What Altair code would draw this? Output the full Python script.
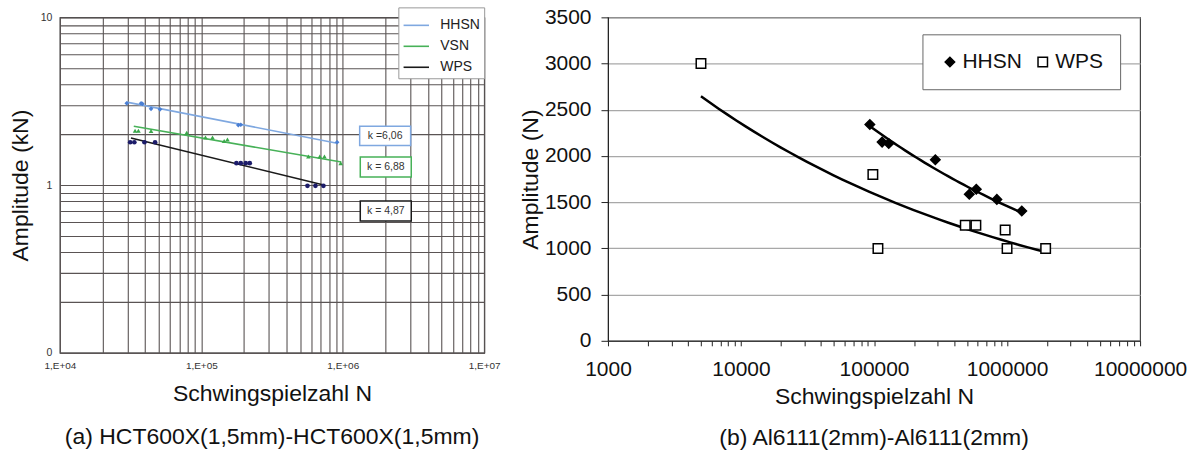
import altair as alt
import numpy as np
import pandas as pd

FONT = "Liberation Sans"

# ---------------- (a) HCT600X(1,5mm)-HCT600X(1,5mm) ----------------
series_a = ["HHSN", "VSN", "WPS"]

hhsn_a_n = [29700, 37500, 38300, 44100, 51000, 182600, 190000, 912000]
hhsn_a_amp = [3.07, 3.07, 3.05, 2.85, 2.83, 2.28, 2.29, 1.80]

vsn_a_n = [34000, 35900, 44100, 78800, 107000, 120000, 145000, 153000, 572000, 688000, 742000, 967000]
vsn_a_amp = [2.11, 2.11, 2.10, 2.05, 1.92, 1.92, 1.83, 1.87, 1.48, 1.48, 1.48, 1.35]

wps_a_n = [31400, 33600, 39600, 47100, 177000, 190000, 206000, 220000, 563000, 641000, 730000]
wps_a_amp = [1.80, 1.80, 1.80, 1.80, 1.35, 1.35, 1.35, 1.35, 0.99, 0.99, 0.99]

# Wöhler lines: slope exponent k, range of N and a reference point on each line
k_values = [6.06, 6.88, 4.87]
k_labels = ["k =6,06", "k = 6,88", "k = 4,87"]
line_n_start = [29700, 33300, 31800]
line_n_end = [912000, 977000, 745000]
line_ref_n = [164000, 180000, 154000]
line_ref_amp = [2.355, 1.754, 1.38]

# k label boxes (N and amplitude extents)
box_n_lo = [1.317e6, 1.33e6, 1.33e6]
box_n_hi = [3.02e6, 3.05e6, 3.05e6]
box_amp_hi = [2.245, 1.468, 0.803]
box_amp_lo = [1.723, 1.116, 0.610]

point_colors_a = ["#4a7fd4", "#3aa84a", "#1c1c6a"]
line_colors_a = ["#7fa8e0", "#47b158", "#1a1a1a"]
box_colors_a = ["#7fa8e0", "#47b158", "#1a1a1a"]
shapes_a = ["diamond", "triangle-up", "circle"]

# ---------------- (b) Al6111(2mm)-Al6111(2mm) ----------------
series_b = ["HHSN", "WPS"]
hhsn_b_n = [93000, 115000, 129000, 289000, 520000, 587000, 838000, 1290000]
hhsn_b_amp = [2340, 2150, 2135, 1960, 1585, 1640, 1530, 1405]
wps_b_n = [5000, 98000, 107000, 485000, 583000, 968000, 1000000, 1950000]
wps_b_amp = [3000, 1800, 1000, 1250, 1250, 1200, 1000, 1000]

# power trend lines  A = A0 * (N / N0) ** b
trend_b_n0 = [93000, 5000]
trend_b_a0 = [2322, 2646]
trend_b_exp = [-0.196, -0.170]
trend_b_n1 = [1300000, 1950000]


def log_grid(lo_exp, hi_exp):
    vals = []
    for e in range(lo_exp, hi_exp):
        for m in range(1, 10):
            vals.append(m * 10.0 ** e)
    vals.append(10.0 ** hi_exp)
    return vals


# ---- tables for (a)
pts_a = [
    pd.DataFrame({"N": hhsn_a_n, "A": hhsn_a_amp}),
    pd.DataFrame({"N": vsn_a_n, "A": vsn_a_amp}),
    pd.DataFrame({"N": wps_a_n, "A": wps_a_amp}),
]

rows = []
for s, k, n0, n1, nr, ar in zip(series_a, k_values, line_n_start, line_n_end, line_ref_n, line_ref_amp):
    for n in (n0, n1):
        rows.append({"N": n, "A": ar * (n / nr) ** (-1.0 / k), "series": s})
lines_a = pd.DataFrame(rows)

boxes_a = pd.DataFrame({
    "n_lo": box_n_lo, "n_hi": box_n_hi,
    "a_lo": box_amp_lo, "a_hi": box_amp_hi,
    "label": k_labels, "col": box_colors_a,
})
boxes_a["n_mid"] = np.sqrt(boxes_a["n_lo"] * boxes_a["n_hi"])
boxes_a["a_mid"] = np.sqrt(boxes_a["a_lo"] * boxes_a["a_hi"])

GRID_A = "#5a5454"
x_a = alt.X(
    "N:Q",
    scale=alt.Scale(type="log", domain=[1e4, 1e7], nice=False),
    axis=alt.Axis(
        title="Schwingspielzahl N", values=log_grid(4, 7),
        labelExpr="abs(log(datum.value)/LN10 - round(log(datum.value)/LN10)) < 0.001 ? '1,E+0' + round(log(datum.value)/LN10) : ''",
        labelFlush=False, labelOverlap=False, labelFontSize=10, labelColor="#333",
        labelPadding=8, tickSize=0, grid=True, gridColor=GRID_A, gridWidth=1.1, gridOpacity=1,
        domainColor=GRID_A, titleFontSize=23, titleFontWeight="normal", titlePadding=12, titleColor="#111",
    ),
)
y_a = alt.Y(
    "A:Q",
    scale=alt.Scale(type="log", domain=[0.1, 10], nice=False),
    axis=alt.Axis(
        title="Amplitude (kN)", values=log_grid(-1, 1),
        labelExpr="abs(datum.value - 10) < 0.001 ? '10' : (abs(datum.value - 1) < 0.001 ? '1' : (abs(datum.value - 0.1) < 0.001 ? '0' : ''))",
        labelOverlap=False, labelFontSize=10.5, labelColor="#333", labelPadding=8, tickSize=0,
        grid=True, gridColor=GRID_A, gridWidth=1.1, gridOpacity=1, domainColor=GRID_A,
        titleFontSize=23, titleFontWeight="normal", titlePadding=8, titleColor="#111",
    ),
)

lines_layer_a = alt.Chart(lines_a).mark_line(strokeWidth=1.6).encode(
    x=x_a, y=y_a,
    color=alt.Color(
        "series:N",
        scale=alt.Scale(domain=series_a, range=line_colors_a),
        legend=alt.Legend(
            title=None, orient="none", legendX=339, legendY=-10, direction="vertical",
            symbolType="stroke", symbolSize=650, symbolStrokeWidth=1.6,
            labelFontSize=14, labelColor="#222", labelOffset=10,
            strokeColor="#999", fillColor="white", padding=4, rowPadding=0,
        ),
    ),
    detail="series:N",
)

# measured points, one layer per test series
pts_layers_a = [
    alt.Chart(df).mark_point(filled=True, size=22, opacity=1, shape=shp, fill=col, stroke=None).encode(
        x="N:Q", y="A:Q",
    )
    for df, shp, col in zip(pts_a, shapes_a, point_colors_a)
]

box_layer_a = alt.Chart(boxes_a).mark_rect(fill="white", strokeWidth=1.5).encode(
    x="n_lo:Q", x2="n_hi:Q", y="a_lo:Q", y2="a_hi:Q",
    stroke=alt.Stroke("col:N", scale=None),
)
box_text_a = alt.Chart(boxes_a).mark_text(fontSize=10.5, color="#333").encode(
    x="n_mid:Q", y="a_mid:Q", text="label:N",
)

chart_a = alt.layer(lines_layer_a, *pts_layers_a, box_layer_a, box_text_a).properties(
    width=425, height=336,
    title=alt.TitleParams(
        "(a) HCT600X(1,5mm)-HCT600X(1,5mm)", orient="bottom", fontSize=23,
        fontWeight="normal", color="#111", offset=20, anchor="middle",
    ),
)

# ---- tables for (b)
pts_b = pd.concat([
    pd.DataFrame({"N": hhsn_b_n, "A": hhsn_b_amp, "series": "HHSN"}),
    pd.DataFrame({"N": wps_b_n, "A": wps_b_amp, "series": "WPS"}),
])
rows = []
for s, n0, a0, b, n1 in zip(series_b, trend_b_n0, trend_b_a0, trend_b_exp, trend_b_n1):
    for n in np.geomspace(n0, n1, 40):
        rows.append({"N": n, "A": a0 * (n / n0) ** b, "series": s})
trend_b = pd.DataFrame(rows)

x_b = alt.X(
    "N:Q",
    scale=alt.Scale(type="log", domain=[1e3, 1e7], nice=False),
    axis=alt.Axis(
        title="Schwingspielzahl N", values=log_grid(3, 7),
        labelExpr="abs(log(datum.value)/LN10 - round(log(datum.value)/LN10)) < 0.001 ? format(datum.value, 'd') : ''",
        labelFlush=False, labelOverlap=False, labelFontSize=21, labelColor="#111",
        labelPadding=13, tickSize=5, tickColor="#222", domainColor="#222", grid=False,
        titleFontSize=23, titleFontWeight="normal", titlePadding=6, titleColor="#111",
    ),
)
y_b = alt.Y(
    "A:Q",
    scale=alt.Scale(domain=[0, 3500], nice=False),
    axis=alt.Axis(
        title="Amplitude (N)", values=list(range(0, 3501, 500)), format="d",
        labelFontSize=21, labelColor="#111", labelPadding=10, tickSize=7, tickColor="#222",
        domainColor="#222", grid=True, gridColor="#a8a8a8", gridWidth=1.3,
        titleFontSize=23, titleFontWeight="normal", titlePadding=2, titleColor="#111",
    ),
)

trend_layer_b = alt.Chart(trend_b).mark_line(color="black", strokeWidth=2.5).encode(
    x=x_b, y=y_b, detail="series:N",
)
legend_b = alt.Legend(
    title=None, orient="none", legendX=315, legendY=17, direction="horizontal",
    symbolSize=90, symbolStrokeColor="black", symbolStrokeWidth=1.5,
    labelFontSize=21, labelColor="#111", labelOffset=2, columnPadding=10,
    strokeColor="#666", fillColor="white", padding=17,
)
pts_layer_b = alt.Chart(pts_b).mark_point(filled=True, size=90, stroke="black", strokeWidth=1.5, opacity=1).encode(
    x="N:Q", y="A:Q",
    color=alt.Color("series:N", scale=alt.Scale(domain=series_b, range=["black", "white"]), legend=legend_b),
    shape=alt.Shape("series:N", scale=alt.Scale(domain=series_b, range=["diamond", "square"]), legend=legend_b),
)

chart_b = alt.layer(trend_layer_b, pts_layer_b).properties(
    width=533, height=324,
    title=alt.TitleParams(
        "(b) Al6111(2mm)-Al6111(2mm)", orient="bottom", fontSize=23,
        fontWeight="normal", color="#111", offset=18, anchor="middle",
    ),
)

chart = alt.hconcat(chart_a, chart_b, spacing=124, bounds="flush").resolve_scale(
    color="independent", shape="independent",
).resolve_legend(
    color="independent", shape="independent",
).properties(
    padding={"left": 8, "top": 5, "right": 5, "bottom": 5},
).configure(font=FONT).configure_view(stroke="#444", strokeWidth=1.2)

chart.save("out.html", embed_options={"renderer": "svg", "actions": False})
